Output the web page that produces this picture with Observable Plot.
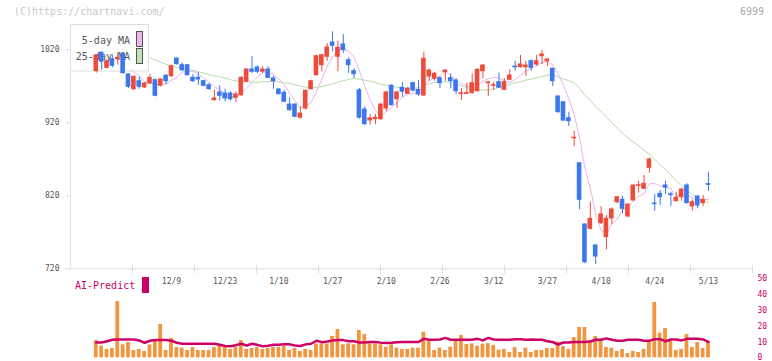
<!DOCTYPE html>
<html><head><meta charset="utf-8">
<script src="https://cdn.jsdelivr.net/npm/d3@7"></script>
<script src="https://cdn.jsdelivr.net/npm/@observablehq/plot@0.6"></script>
<style>
body{margin:0;background:#fff}
#wrap{position:relative;width:772px;height:361px;overflow:hidden;font-family:"DejaVu Sans Mono",monospace}
.abs{position:absolute;white-space:nowrap}
#main,#vol{position:absolute;left:0}
#main{top:0}
#vol{top:270px}
</style>
</head><body>
<div id="wrap">
  <div id="main"></div>
  <div id="vol"></div>
  <div class="abs" style="left:14px;top:6px;font-size:10px;line-height:12px;color:#c8c8c8">(C)https://chartnavi.com/</div>
  <div class="abs" style="right:8px;top:6px;font-size:10px;line-height:12px;color:#aaa">6999</div>
  <div class="abs" style="left:75px;top:280px;font-size:10px;line-height:12px;color:#cc0066">AI-Predict</div>
  <div class="abs" style="left:142px;top:277px;width:7px;height:16px;background:#cc0066"></div>
</div>
<script>
// ---- data ----
const open = [991,1016,995.3,1007.1,1007,1014.5,986.2,966,977,968.4,
973.8,978.4,970.7,984.4,983.8,1008,998.9,998.9,981.6,981.6,
977,971.5,951,961.5,960.1,960.1,954.2,957.8,976.2,993,
995.8,989.9,993,980.7,965.6,961.1,945,945,926.9,939.6,
966,985.2,998.9,1010.4,1030,1010.4,1027.3,1005.8,990.7,964.6,
938.2,923.2,925,925,939.6,970.7,952.3,967.9,959.7,974.3,
965.2,957.4,983.4,980.3,981.1,989.3,981.1,977.9,959.7,959.7,
960.6,963.3,990.7,974.3,970.7,975.6,965.2,978.9,997,996.2,
996.2,1004.4,999.9,1011.2,1004.4,994,956,948.2,926.3,898.8,
864.6,780.7,774.8,751.9,782.5,763.3,788.9,811.2,814.5,791.6,
813.6,833.6,829.6,858.3,809.5,822.7,834.1,822,812.6,818.1,
834.1,805.4,819,809.9,836];
const close = [1012.2,1003.6,1004.4,998.1,1009,987.9,969.3,983,969.3,973.8,
981.6,957,979.3,977,997.5,1000.3,992.1,985.2,977,979.3,
970.7,966,953.3,957,953.3,952.3,958.8,981.6,993,989.9,
989.9,993,981.6,977,959.2,948.8,937.3,928.2,932.7,963.8,
977,1011.2,1012.6,1023.2,1025.5,1022.7,1019.5,998.9,986.6,926.9,
918.1,925.9,926.9,945,961.5,944.1,961.5,962.5,966.6,964.2,
958.8,1007.7,991.6,987.1,974.3,991.6,977,963.3,960.6,960.6,
974.3,992.6,998.5,975.2,971.6,968,975.6,984.8,996,999.9,
998.5,995.3,1004.4,1013.6,1006.7,977,934.5,923.1,922.2,899.5,
814.5,729,788.5,736.8,794.4,788.5,801.2,818,802.2,808,
834.1,834.5,836.4,869.7,808.6,818.1,831,821,817.2,828.6,
809.9,811.2,806.7,814.5,835];
const high = [1013,1017,1006,1012.6,1016,1016,987,984,983,975,
986.2,980,980,986.2,999,1009,1002.2,1000,986.2,988.9,
978,973.8,964.6,970.7,966,962.5,962.5,983,994,1010.8,
998,996.7,996.7,983.8,967,964.6,954.2,946,942,965,
978.4,1012.5,1013.6,1028.6,1044.6,1031.8,1041,1009,994.4,967,
942,931.4,931.4,946,963.3,972,963.3,975.2,968.8,976,
978,1016.7,994,989.3,982.5,992.5,987.1,980.3,966.6,974.3,
987.1,994,999.5,977,975.6,988,980.3,992.6,1004.4,1012.2,
1004.4,1006.3,1012.2,1019,1007.7,995,957,949,934.5,908.5,
865.5,781.5,811.2,753,805.3,793,803.5,819,819,809,
835,840,847.8,872,821.8,827.3,840,825,825,829.6,
836.4,814.5,820.4,820.4,852.3];
const low = [988,992,994,995.3,999,987,967,964.6,966,967,
972.5,955.6,969,971.5,982,999,989.9,984,975.2,971.5,
969,964.6,949.6,949.6,948.8,949.6,947.8,956,975,987.5,
987.5,987.5,980.7,966,958,947.8,936,927,925,937.3,
965,984,989.9,1004.4,1017.3,989.9,1015,987.5,980.7,925,
916.7,916.7,917.6,923,935,943,939.6,955,958.8,962,
956,956,977,977,966.6,977,966.6,958.8,950.5,958.8,
959.7,962,980.3,956,964.2,967,964.2,978,990.7,995,
983.4,990.7,997,999.9,997,969.7,933,922,914.9,887.5,
800.8,726.8,773,725.9,780.7,746,780.7,809,795.3,790,
812.6,823.6,828.7,851,798.9,806.7,821.8,805.4,812,812.6,
809,799,802.2,805.4,826.3];
const volume = [10.9,7.3,5.3,5.9,35.6,8.2,9.7,4.6,5.3,4.0,
8.2,10.5,21.1,4.6,12.2,6.5,6.1,4.6,6.5,4.6,
4.6,4.6,6.5,7.3,6.5,5.3,6.5,10.9,5.3,5.9,
6.5,5.3,5.9,6.5,6.5,7.3,4.6,5.9,4.0,5.3,
4.6,8.8,8.8,8.8,13.5,17.9,8.2,8.8,8.2,17.3,
14.7,8.8,8.8,8.2,6.7,8.2,6.1,5.3,5.3,6.1,
6.1,16.2,10.3,4.6,6.1,4.6,6.7,10.3,14.1,8.4,
8.8,7.3,8.6,9.0,7.8,4.8,5.3,3.4,6.5,3.4,
6.1,3.4,4.6,4.6,5.9,5.9,9.9,7.1,5.3,12.8,
19.2,19.2,10.9,13.5,10.9,6.5,6.1,4.0,5.3,2.7,
4.0,3.4,5.3,9.9,35,15.6,18.5,10.3,4.6,5.3,
14.7,6.5,9.7,5.9,10.3];
const aiPredict = [9.7,9.7,10.5,11.4,11.6,11.6,11.6,11.6,11,9.5,
10.8,11.2,11.2,11.2,10.8,9.5,8.9,8.9,8.9,8.9,
8.9,8.9,8.9,8.2,7.5,7.3,8.0,8.9,7.8,8.9,
8.2,7.3,7.6,8.2,8.2,8.5,8.5,7.8,7.5,8.5,
8.9,10.8,9.9,10.3,11,11.2,11.2,10.5,10.5,9.7,
9.7,10,10,9.6,9.4,9.5,9.8,10,10,10,
10,12,11.4,11.4,11.6,12.6,11.4,11.4,11.4,11.4,
11.4,12,11,12.6,11.6,11.4,11.4,11.4,11.8,11.8,
11.4,11.6,11.4,11.4,10.5,10,8.4,9.7,9.7,10,
10,10,10.3,11.4,11.4,12.3,11.4,10.8,10.8,11.4,
11.4,11.4,10.8,10.8,11.8,11.8,10.5,11.6,11.6,11,
12,12,12,11.6,10.1];
// 25-day MA for the first candles (window reaches before the shown data), starting at candle 10
const ma25Start = 10;
const ma25Head = [1009,1006,1003,1000,998,996,994,993,992,990,988,986,984,983];
const dateLabels = ["12/9","12/23","1/10","1/27","2/10","2/26","3/12","3/27","4/10","4/24","5/13"];
const dateIdx = [14,24,34,44,54,64,74,84,94,104,114];
const priceTicks = [720,820,920,1020];
const volTicks = [0,10,20,30,40,50];

// ---- derived tables ----
const RED = "#ef4b3b", BLUE = "#3c77ee";
const candles = open.map((o, i) => ({i, open: o, close: close[i], high: high[i], low: low[i],
  color: close[i] >= o ? RED : BLUE}));
const ma5 = close.map((c, i) => ({i, v: d3.mean(close.slice(Math.max(0, i - 4), i + 1))}));
const ma25 = [];
ma25Head.forEach((v, k) => ma25.push({i: ma25Start + k, v}));
for (let i = 24; i < close.length; i++) ma25.push({i, v: d3.mean(close.slice(i - 24, i + 1))});
const vols = volume.map((v, i) => ({i, v, ai: aiPredict[i]}));

const xDomain = [-4.8, 122.2];
const tickPos = d3.range(1, 12).map(k => xDomain[0] + k * (xDomain[1] - xDomain[0]) / 11);
const FONT = "DejaVu Sans Mono";

function legend() {
  const g = d3.create("svg:g").attr("font-family", FONT).attr("font-size", 10);
  g.append("rect").attr("x", 70.5).attr("y", 24.5).attr("width", 78).attr("height", 46.5)
    .attr("fill", "white").attr("stroke", "#ddd");
  g.append("text").attr("x", 130).attr("y", 40).attr("text-anchor", "end").attr("dy", "0.35em")
    .attr("fill", "#555").text("5-day MA");
  g.append("text").attr("x", 130).attr("y", 56.5).attr("text-anchor", "end").attr("dy", "0.35em")
    .attr("fill", "#555").text("25-day MA");
  g.append("rect").attr("x", 136.5).attr("y", 31.5).attr("width", 6).attr("height", 15)
    .attr("fill", "#ebb9eb").attr("stroke", "#555");
  g.append("rect").attr("x", 136.5).attr("y", 48.5).attr("width", 6).attr("height", 15)
    .attr("fill", "#c3e1b5").attr("stroke", "#555");
  return g.node();
}

const main = Plot.plot({
  width: 772, height: 290,
  marginLeft: 70, marginRight: 20, marginTop: 27.4, marginBottom: 21.7,
  style: {fontFamily: FONT, fontSize: "8px", background: "transparent", overflow: "visible"},
  x: {type: "linear", domain: xDomain},
  y: {domain: [720, 1050]},
  marks: [
    Plot.ruleX([xDomain[0]], {y1: 720, y2: 1050, stroke: "#ddd"}),
    Plot.ruleY([720], {stroke: "#ddd"}),
    Plot.axisX(tickPos, {tickSize: 8, dy: -3, stroke: "#ddd", tickFormat: () => "", label: null}),
    Plot.axisX(dateIdx, {tickSize: 0, tickPadding: 10, fill: "#555", fontSize: 8,
      tickFormat: v => dateLabels[dateIdx.indexOf(v)], label: null}),
    Plot.axisY(priceTicks, {tickSize: 5, tickPadding: 6, stroke: "#ddd", fill: "#555", fontSize: 8,
      tickFormat: d => String(d), label: null}),
    Plot.line(ma25, {x: "i", y: "v", stroke: "#b9dcab", strokeWidth: 1}),
    Plot.line(ma5, {x: "i", y: "v", stroke: "#e9b3e9", strokeWidth: 1}),
    legend,
    Plot.ruleX(candles, {x: "i", y1: "low", y2: "high", stroke: "color", strokeWidth: 1}),
    Plot.rect(candles, {x1: d => d.i - 0.43, x2: d => d.i + 0.43, y1: "open", y2: "close",
      fill: "color", insetTop: -0.5, insetBottom: -0.5})
  ]
});
document.getElementById("main").appendChild(main);

const vol = Plot.plot({
  width: 772, height: 91,
  marginLeft: 70, marginRight: 20, marginTop: 8.3, marginBottom: 3.7,
  style: {fontFamily: FONT, fontSize: "8px", background: "transparent", overflow: "visible"},
  x: {type: "linear", domain: xDomain, axis: null},
  y: {domain: [0, 50]},
  marks: [
    Plot.rectY(vols, {x1: d => d.i - 0.35, x2: d => d.i + 0.35, y: "v", fill: "#f1953f"}),
    Plot.line(vols, {x: "i", y: "ai", stroke: "#cc0066", strokeWidth: 2.5}),
    Plot.axisY(volTicks, {anchor: "right", tickSize: 0, tickPadding: 5, fill: "#cc0066", fontSize: 8,
      tickFormat: d => String(d), label: null})
  ]
});
document.getElementById("vol").appendChild(vol);
</script>
</body></html>
